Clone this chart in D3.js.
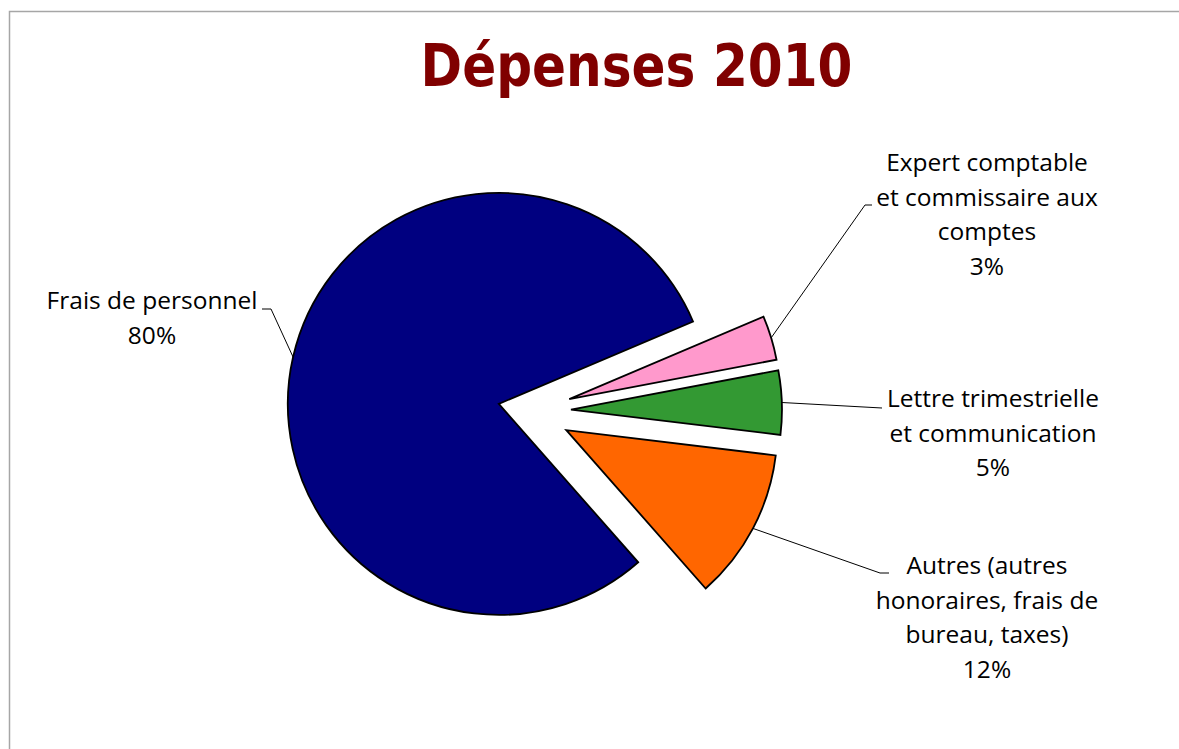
<!DOCTYPE html>
<html>
<head>
<meta charset="utf-8">
<script src="https://cdn.jsdelivr.net/npm/d3@7"></script>
<style>
  body { margin: 0; background: #fff; }
  svg { display: block; }
  .lbl { font-family: "Open Sans", Lato, sans-serif; font-size: 24.5px; fill: #000; }
</style>
</head>
<body>
<svg width="1179" height="749"></svg>
<script>
var categories = [
  ["Frais de personnel"],
  ["Expert comptable", "et commissaire aux", "comptes"],
  ["Lettre trimestrielle", "et communication"],
  ["Autres (autres", "honoraires, frais de", "bureau, taxes)"]
];
var values = [80.1, 3.4, 4.9, 11.6];
var colors = ["#000080", "#ff99cc", "#339933", "#ff6600"];

// layout only (not data)
var cx = 530, cy = 411, radius = 211;
var explode = [32, 41, 41, 41];
var labelAnchor = [
  {x: 152, y: 309, line: [[262, 309], [271, 309]]},
  {x: 987, y: 171, line: [[872, 205], [865, 205]]},
  {x: 993, y: 407, line: [[882, 408]]},
  {x: 987, y: 574, line: [[889, 573], [880, 573]]}
];
var lineGap = 34.5;

var svg = d3.select("svg");

// frame (top and left rules only)
svg.append("path")
  .attr("d", "M9.5,749 L9.5,11.5 L1179,11.5")
  .attr("fill", "none")
  .attr("stroke", "#a6a6a6")
  .attr("stroke-width", 1.5);

svg.append("text")
  .attr("x", 636.5)
  .attr("y", 85.5)
  .attr("text-anchor", "middle")
  .attr("textLength", 432)
  .attr("lengthAdjust", "spacingAndGlyphs")
  .style("font-family", "'DejaVu Sans', Verdana, sans-serif")
  .style("font-weight", "bold")
  .style("font-size", "58px")
  .style("fill", "#800000")
  .text("Dépenses 2010");

var total = d3.sum(values);
var startA = 138.65 * Math.PI / 180;
var pie = d3.pie().sort(null).startAngle(startA).endAngle(startA + 2 * Math.PI);
var arcs = pie(values);
var arc = d3.arc().innerRadius(0).outerRadius(radius);

function offset(d, i) {
  var m = (d.startAngle + d.endAngle) / 2;
  return [cx + explode[i] * Math.sin(m), cy - explode[i] * Math.cos(m)];
}

var g = svg.append("g");

g.selectAll("path.slice")
  .data(arcs)
  .enter()
  .append("path")
  .attr("class", "slice")
  .attr("transform", function(d, i) {
    var o = offset(d, i);
    return "translate(" + o[0] + "," + o[1] + ")";
  })
  .attr("d", arc)
  .attr("fill", function(d, i) { return colors[i]; })
  .attr("stroke", "#000")
  .attr("stroke-width", 1.8)
  .attr("stroke-linejoin", "miter");

// leader lines from arc midpoint to label
svg.selectAll("path.leader")
  .data(arcs)
  .enter()
  .append("path")
  .attr("class", "leader")
  .attr("fill", "none")
  .attr("stroke", "#000")
  .attr("stroke-width", 1)
  .attr("d", function(d, i) {
    var o = offset(d, i);
    var m = (d.startAngle + d.endAngle) / 2;
    var pts = [[o[0] + radius * Math.sin(m), o[1] - radius * Math.cos(m)]];
    var rest = labelAnchor[i].line.slice().reverse();
    return d3.line()(pts.concat(rest));
  });

var labels = svg.selectAll("text.lbl")
  .data(arcs)
  .enter()
  .append("text")
  .attr("class", "lbl")
  .attr("text-anchor", "middle");

labels.each(function(d, i) {
  var t = d3.select(this);
  var lines = categories[i].concat([Math.round(d.value / total * 100) + "%"]);
  lines.forEach(function(s, k) {
    t.append("tspan")
      .attr("x", labelAnchor[i].x)
      .attr("y", labelAnchor[i].y + k * lineGap)
      .text(s);
  });
});
</script>
</body>
</html>
